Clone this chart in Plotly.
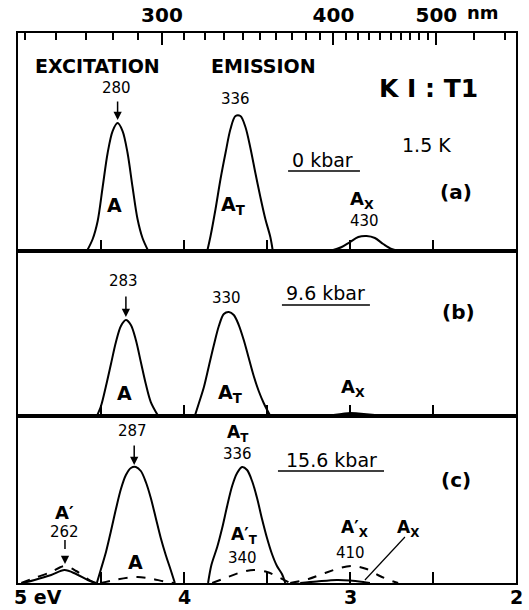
import plotly.graph_objects as go

# ---------------- data (energy in eV, intensity in arbitrary units) ----------------
# top wavelength scale (nm)
NM_MAJOR = [300, 400, 500]
NM_MAJOR_TEXT = ["300", "400", "500"]
NM_MINOR = [250, 260, 270, 280, 290, 310, 320, 330, 340, 350, 360, 370, 380, 390,
            410, 420, 430, 440, 450, 460, 470, 480, 490, 550, 600]
# bottom energy scale
EV_TICKS = [4.5, 4.0, 3.5, 3.0, 2.5]
EV_LABEL_VALS = [5, 4, 3, 2]
EV_LABEL_TEXT = ["5 eV", "4", "3", "2"]

# panel (a) 0 kbar
a_exc_E = [4.585, 4.55, 4.52, 4.49, 4.46, 4.43, 4.40, 4.37, 4.34, 4.31, 4.28, 4.25, 4.215]
a_exc_I = [0, 12, 30, 64, 98, 120, 128, 120, 98, 64, 32, 13, 0]
a_emT_E = [3.86, 3.84, 3.81, 3.78, 3.75, 3.72, 3.69, 3.66, 3.63, 3.60, 3.57, 3.54, 3.51, 3.48, 3.465]
a_emT_I = [0, 15, 42, 72, 98, 122, 135, 135, 124, 103, 78, 54, 32, 14, 0]
a_emX_E = [3.12, 3.05, 3.00, 2.95, 2.90, 2.85, 2.80, 2.75, 2.70]
a_emX_I = [0, 4, 9, 14, 15, 13, 7, 2, 0]

# panel (b) 9.6 kbar
b_exc_E = [4.525, 4.50, 4.47, 4.44, 4.41, 4.38, 4.35, 4.32, 4.29, 4.26, 4.23, 4.20, 4.155]
b_exc_I = [0, 10, 30, 52, 74, 90, 96, 91, 76, 54, 32, 14, 0]
b_emT_E = [3.935, 3.91, 3.88, 3.85, 3.82, 3.79, 3.76, 3.73, 3.70, 3.67, 3.64, 3.61,
           3.58, 3.55, 3.52, 3.48]
b_emT_I = [0, 13, 29, 50, 71, 90, 102, 104, 101, 91, 76, 58, 40, 25, 13, 0]
b_emX_E = [3.15, 3.05, 3.00, 2.95, 2.85, 2.80]
b_emX_I = [0, 2, 3, 2.5, 1, 0]

# panel (c) 15.6 kbar, solid (A series)
c_excP_E = [4.97, 4.90, 4.80, 4.72, 4.65, 4.58, 4.53]
c_excP_I = [0, 3, 8, 13, 9, 3, 0]
c_exc_E = [4.525, 4.50, 4.47, 4.44, 4.41, 4.38, 4.35, 4.32, 4.29, 4.26, 4.23, 4.20,
           4.17, 4.14, 4.11, 4.08, 4.055]
c_exc_I = [0, 14, 31, 52, 74, 94, 108, 115, 116, 112, 101, 85, 65, 45, 28, 13, 0]
c_emT_E = [3.855, 3.835, 3.80, 3.77, 3.74, 3.71, 3.68, 3.65, 3.62, 3.59, 3.56, 3.53,
           3.50, 3.47, 3.44, 3.41, 3.39]
c_emT_I = [0, 18, 36, 55, 77, 97, 110, 116, 113, 102, 85, 64, 45, 29, 17, 9, 0]
c_emX_E = [3.30, 3.20, 3.08, 3.00, 2.92, 2.88]
c_emX_I = [0, 1.5, 3, 2.5, 1, 0]
# panel (c), dashed (A' series)
c_dexcP_E = [4.98, 4.90, 4.80, 4.72, 4.65, 4.58, 4.54]
c_dexcP_I = [0, 5, 11, 17, 12, 4, 0]
c_dexc_E = [4.50, 4.42, 4.33, 4.28, 4.20, 4.12, 4.06]
c_dexc_I = [0, 3, 5.5, 6, 4.5, 1.5, 0]
c_demT_E = [3.83, 3.75, 3.67, 3.58, 3.50, 3.42, 3.36]
c_demT_I = [0, 5, 10, 13, 11, 5, 0]
c_demX_E = [3.36, 3.25, 3.15, 3.05, 2.98, 2.90, 2.82, 2.75, 2.71]
c_demX_I = [0, 4, 10, 15.5, 17, 14, 7, 2, 0]

HC = 1239.84  # eV*nm

# ---------------- figure ----------------
FONT = "DejaVu Sans"
fig = go.Figure()
PANEL = {"a": ("x3", "y3"), "b": ("x2", "y2"), "c": ("x", "y")}

def curve(E, I, panel, dash="solid"):
    xa, ya = PANEL[panel]
    fig.add_trace(go.Scatter(x=E, y=I, xaxis=xa, yaxis=ya, mode="lines",
                             line=dict(color="black", width=2, dash=dash,
                                       shape="spline", smoothing=0.9),
                             showlegend=False, hoverinfo="skip"))

curve(a_exc_E, a_exc_I, "a"); curve(a_emT_E, a_emT_I, "a"); curve(a_emX_E, a_emX_I, "a")
curve(b_exc_E, b_exc_I, "b"); curve(b_emT_E, b_emT_I, "b"); curve(b_emX_E, b_emX_I, "b")
curve(c_excP_E, c_excP_I, "c"); curve(c_exc_E, c_exc_I, "c")
curve(c_emT_E, c_emT_I, "c"); curve(c_emX_E, c_emX_I, "c")
for E, I in [(c_dexcP_E, c_dexcP_I), (c_dexc_E, c_dexc_I), (c_demT_E, c_demT_I), (c_demX_E, c_demX_I)]:
    curve(E, I, "c", dash="dash")

# invisible trace to activate the top wavelength axis
fig.add_trace(go.Scatter(x=[5, 2], y=[0, 0], xaxis="x4", yaxis="y3", mode="markers",
                         marker=dict(opacity=0), showlegend=False, hoverinfo="skip"))

frame = dict(showline=True, linecolor="black", linewidth=2, mirror=True,
             showgrid=False, zeroline=False, automargin=False)
xcommon = dict(range=[5, 2], tickmode="array", tickvals=EV_TICKS, ticks="inside",
               ticklen=11, tickwidth=1.5, tickcolor="black", showticklabels=False, **frame)
ycommon = dict(showticklabels=False, ticks="", fixedrange=True, **frame)

fig.update_layout(
    width=529, height=610,
    margin=dict(l=18, r=13, t=33, b=27, autoexpand=False),
    paper_bgcolor="white", plot_bgcolor="white",
    font=dict(family=FONT, color="black"),
    xaxis=dict(anchor="y", **xcommon),
    xaxis2=dict(anchor="y2", matches="x", **xcommon),
    xaxis3=dict(anchor="y3", matches="x", **xcommon),
    xaxis4=dict(overlaying="x3", anchor="y3", side="top", range=[5, 2],
                tickmode="array", tickvals=[HC / n for n in NM_MAJOR],
                ticktext=NM_MAJOR_TEXT, ticks="inside", ticklen=12, tickwidth=1.5,
                tickcolor="black", ticklabelstandoff=6, automargin=False,
                tickfont=dict(size=20, family=FONT, weight="bold"),
                minor=dict(tickmode="array", tickvals=[HC / n for n in NM_MINOR],
                           ticks="inside", ticklen=7, tickwidth=1.5, tickcolor="black"),
                showgrid=False, zeroline=False, showline=False),
    yaxis=dict(domain=[0, 0.3036], range=[0, 167], anchor="x", **ycommon),
    yaxis2=dict(domain=[0.3036, 0.6036], range=[0, 165], anchor="x2", **ycommon),
    yaxis3=dict(domain=[0.6036, 1], range=[0, 218], anchor="x3", **ycommon),
)

anns = []

def ann(text, E, h, panel, size=18, bold=False, **kw):
    xa, ya = PANEL[panel]
    anns.append(dict(text=text, x=E, y=h, xref=xa, yref=ya, showarrow=False,
                     font=dict(size=size, family=FONT, color="black",
                               weight="bold" if bold else "normal"), **kw))

def arrow(E, h_tip, length, panel):
    xa, ya = PANEL[panel]
    anns.append(dict(text="", x=E, y=h_tip, xref=xa, yref=ya, showarrow=True,
                     ax=0, ay=-length, arrowhead=2, arrowsize=1.1, arrowwidth=1.5,
                     arrowcolor="black", standoff=0))

# panel (a)
ann("EXCITATION", 4.524, 185, "a", size=19, bold=True)
ann("EMISSION", 3.524, 185, "a", size=19, bold=True)
ann("K\u00a0I\u00a0:\u00a0T1", 2.530, 163, "a", size=25, bold=True)
ann("280", 4.404, 163, "a", size=15)
arrow(4.40, 131, 20, "a")
ann("336", 3.687, 152, "a", size=15)
ann("1.5 K", 2.542, 106, "a", size=19)
ann("0 kbar", 3.163, 91, "a", size=19)
ann("(a)", 2.361, 59, "a", size=20, bold=True)
ann("A", 4.416, 46, "a", size=19, bold=True)
ann("A<sub>T</sub>", 3.705, 46, "a", size=19, bold=True)
ann("A<sub>X</sub>", 2.928, 51, "a", size=18, bold=True)
ann("430", 2.910, 30, "a", size=15)

# panel (b)
ann("283", 4.367, 135, "b", size=15)
arrow(4.35, 99, 22, "b")
ann("330", 3.741, 118, "b", size=15)
ann("9.6 kbar", 3.145, 123, "b", size=19)
ann("(b)", 2.349, 104, "b", size=20, bold=True)
ann("A", 4.361, 23, "b", size=19, bold=True)
ann("A<sub>T</sub>", 3.723, 23, "b", size=19, bold=True)
ann("A<sub>X</sub>", 2.982, 28, "b", size=18, bold=True)

# panel (c)
ann("287", 4.313, 152, "c", size=15)
arrow(4.30, 118, 21, "c")
ann("A<sub>T</sub>", 3.675, 150, "c", size=17, bold=True)
ann("336", 3.675, 129, "c", size=15)
ann("15.6 kbar", 3.114, 123, "c", size=19)
ann("(c)", 2.361, 103, "c", size=20, bold=True)
ann("A\u2032", 4.717, 71, "c", size=18, bold=True)
ann("262", 4.717, 51, "c", size=15)
arrow(4.717, 19, 8, "c")
ann("A", 4.295, 21, "c", size=19, bold=True)
ann("A\u2032<sub>T</sub>", 3.633, 48, "c", size=17, bold=True)
ann("340", 3.645, 25, "c", size=15)
ann("A\u2032<sub>X</sub>", 2.970, 55, "c", size=17, bold=True)
ann("410", 3.0, 30, "c", size=15)
ann("A<sub>X</sub>", 2.651, 55, "c", size=17, bold=True)

# bottom energy labels
for v, t in zip(EV_LABEL_VALS, EV_LABEL_TEXT):
    anns.append(dict(text=t, x=v, y=-0.026, xref="x", yref="paper", showarrow=False,
                     yanchor="middle",
                     xanchor="left" if v == 5 else "center", xshift=-6 if v == 5 else 0,
                     font=dict(size=19, family=FONT, color="black", weight="bold")))
# "nm" unit after the top "500" label
anns.append(dict(text="nm", x=2.199, y=1.0, xref="x3", yref="paper", yanchor="bottom",
                 yshift=8, showarrow=False,
                 font=dict(size=18, family=FONT, color="black", weight="bold")))

fig.update_layout(annotations=anns)

# underlines, dashed arrow shaft, pointer line
shapes = [
    dict(type="line", xref="x3", yref="y3", x0=3.373, x1=2.940, y0=80, y1=80,
         line=dict(color="black", width=1.5)),
    dict(type="line", xref="x2", yref="y2", x0=3.410, x1=2.880, y0=111, y1=111,
         line=dict(color="black", width=1.5)),
    dict(type="line", xref="x", yref="y", x0=3.434, x1=2.795, y0=112, y1=112,
         line=dict(color="black", width=1.5)),
    dict(type="line", xref="x", yref="y", x0=4.717, x1=4.717, y0=43, y1=26,
         line=dict(color="black", width=1.5, dash="dash")),
    dict(type="line", xref="x", yref="y", x0=2.669, x1=2.910, y0=46, y1=3,
         line=dict(color="black", width=1.2)),
]
fig.update_layout(shapes=shapes)

# remove the browser's default 8px body margin so the figure fills the window exactly
fig.write_html("out.html", config={"displayModeBar": False},
               post_script="document.body.style.margin='0';")
